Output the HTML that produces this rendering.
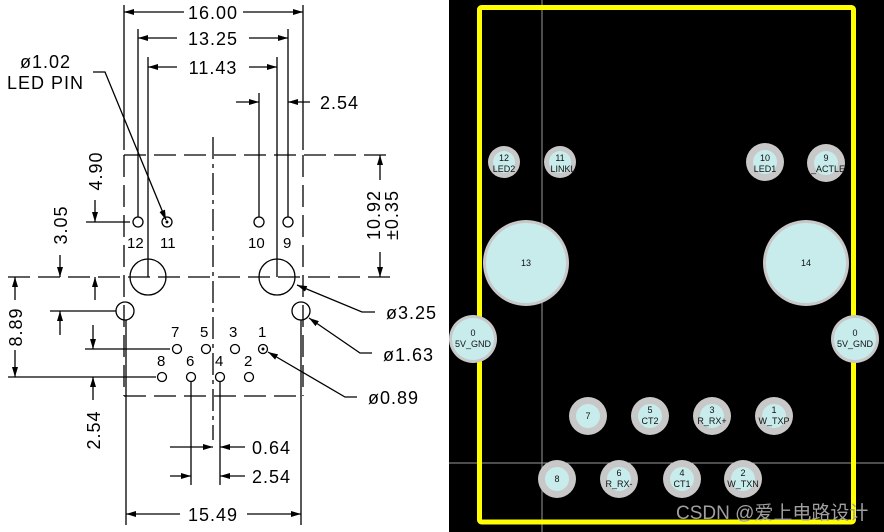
<!DOCTYPE html>
<html><head><meta charset="utf-8"><style>
html,body{margin:0;padding:0;background:#fff;}
svg{display:block;}
</style></head><body>
<svg width="884" height="532" viewBox="0 0 884 532" xmlns="http://www.w3.org/2000/svg">
<defs>
<marker id="a" viewBox="0 0 10 6" refX="10" refY="3" markerWidth="10" markerHeight="6" markerUnits="userSpaceOnUse" orient="auto"><path d="M0,0 L10,3 L0,6 Z" fill="#000"/></marker>
</defs>
<rect width="884" height="532" fill="#fff"/>
<g stroke="#000" stroke-width="1.3" fill="none" font-family="Liberation Sans, sans-serif">
<line x1="124" y1="5" x2="124" y2="150"/><line x1="303" y1="5" x2="303" y2="150"/>
<line x1="138" y1="29" x2="138" y2="217"/><line x1="288" y1="29" x2="288" y2="217"/>
<line x1="148" y1="57" x2="148" y2="277"/><line x1="277" y1="57" x2="277" y2="277"/>
<line x1="259" y1="93" x2="259" y2="217"/>
<line x1="184" y1="12" x2="124" y2="12" marker-end="url(#a)"/><line x1="243" y1="12" x2="303" y2="12" marker-end="url(#a)"/>
<line x1="177" y1="38" x2="138" y2="38" marker-end="url(#a)"/><line x1="249" y1="38" x2="288" y2="38" marker-end="url(#a)"/>
<line x1="177" y1="67" x2="148" y2="67" marker-end="url(#a)"/><line x1="249" y1="67" x2="277" y2="67" marker-end="url(#a)"/>
<line x1="236" y1="102" x2="259" y2="102" marker-end="url(#a)"/><line x1="310" y1="102" x2="288" y2="102" marker-end="url(#a)"/>
<g stroke-dasharray="22,8">
<line x1="124" y1="155" x2="390" y2="155"/>
<line x1="124" y1="155" x2="124" y2="396"/>
<line x1="303" y1="155" x2="303" y2="396"/>
<line x1="124" y1="396" x2="303" y2="396"/>
<line x1="8" y1="277" x2="390" y2="277"/>
</g>
<line x1="213" y1="137" x2="213" y2="440" stroke-dasharray="22,5,4,5"/>
<polyline points="93,72 105,72 166,220" marker-end="url(#a)"/>
<circle cx="138" cy="222" r="5"/><circle cx="167" cy="222" r="5"/><circle cx="259" cy="222" r="5"/><circle cx="288" cy="222" r="5"/>
<circle cx="167" cy="222" r="0.8" fill="#000"/>
<circle cx="148" cy="277" r="18"/><circle cx="277" cy="277" r="18"/>
<circle cx="125" cy="311" r="9"/><circle cx="301" cy="311" r="9"/>
<circle cx="177" cy="349" r="4.5"/><circle cx="206" cy="349" r="4.5"/><circle cx="235" cy="349" r="4.5"/><circle cx="263" cy="349" r="4.5"/>
<circle cx="263" cy="349" r="0.8" fill="#000"/>
<circle cx="162" cy="377" r="4.5"/><circle cx="191" cy="377" r="4.5"/><circle cx="220" cy="377" r="4.5"/><circle cx="249" cy="377" r="4.5"/>
<line x1="126" y1="320" x2="126" y2="525"/><line x1="301" y1="320" x2="301" y2="525"/>
<line x1="191" y1="382" x2="191" y2="485"/><line x1="220" y1="382" x2="220" y2="485"/>
<line x1="180" y1="514" x2="126" y2="514" marker-end="url(#a)"/><line x1="247" y1="514" x2="301" y2="514" marker-end="url(#a)"/>
<line x1="170" y1="447" x2="191" y2="447"/><line x1="191" y1="447" x2="213" y2="447" marker-end="url(#a)"/><line x1="245" y1="447" x2="220" y2="447" marker-end="url(#a)"/>
<line x1="170" y1="476" x2="191" y2="476" marker-end="url(#a)"/><line x1="245" y1="476" x2="220" y2="476" marker-end="url(#a)"/>
<line x1="86" y1="222" x2="130" y2="222"/>
<line x1="50" y1="311" x2="116" y2="311"/>
<line x1="85" y1="349" x2="170" y2="349"/>
<line x1="8" y1="377" x2="156" y2="377"/>
<line x1="95" y1="200" x2="95" y2="222" marker-end="url(#a)"/><line x1="95" y1="300" x2="95" y2="277" marker-end="url(#a)"/>
<line x1="60" y1="255" x2="60" y2="277" marker-end="url(#a)"/><line x1="60" y1="335" x2="60" y2="311" marker-end="url(#a)"/>
<line x1="15" y1="300" x2="15" y2="277" marker-end="url(#a)"/><line x1="15" y1="350" x2="15" y2="377" marker-end="url(#a)"/>
<line x1="93" y1="325" x2="93" y2="349" marker-end="url(#a)"/><line x1="93" y1="400" x2="93" y2="377" marker-end="url(#a)"/>
<line x1="380" y1="180" x2="380" y2="155" marker-end="url(#a)"/><line x1="380" y1="252" x2="380" y2="277" marker-end="url(#a)"/>
<polyline points="375,312 362,312 297,285" marker-end="url(#a)"/>
<polyline points="372,353 360,353 309,318" marker-end="url(#a)"/>
<polyline points="357,397 345,397 268,352" marker-end="url(#a)"/>
</g>
<g font-family="Liberation Sans, sans-serif" font-size="18" fill="#000" letter-spacing="1">
<text x="213" y="19" text-anchor="middle">16.00</text>
<text x="213" y="45" text-anchor="middle">13.25</text>
<text x="213" y="74" text-anchor="middle">11.43</text>
<text x="320" y="109">2.54</text>
<text x="20" y="68">ø1.02</text>
<text x="7" y="89">LED  PIN</text>
<text x="386" y="319">ø3.25</text>
<text x="383" y="361">ø1.63</text>
<text x="368" y="404">ø0.89</text>
<text x="252" y="454">0.64</text>
<text x="252" y="483">2.54</text>
<text x="213" y="521" text-anchor="middle">15.49</text>
<text transform="translate(102,171) rotate(-90)" text-anchor="middle">4.90</text>
<text transform="translate(67,225) rotate(-90)" text-anchor="middle">3.05</text>
<text transform="translate(22,327) rotate(-90)" text-anchor="middle">8.89</text>
<text transform="translate(100,430) rotate(-90)" text-anchor="middle">2.54</text>
<text transform="translate(380,215) rotate(-90)" text-anchor="middle">10.92</text>
<text transform="translate(398,215) rotate(-90)" text-anchor="middle">±0.35</text>
</g>
<g font-family="Liberation Sans, sans-serif" font-size="15" fill="#000">
<text x="127" y="248">12</text><text x="160" y="248">11</text><text x="248" y="248">10</text><text x="283" y="248">9</text>
<text x="171" y="337">7</text><text x="200" y="337">5</text><text x="229" y="337">3</text><text x="258" y="337">1</text>
<text x="157" y="366">8</text><text x="186" y="366">6</text><text x="215" y="366">4</text><text x="244" y="366">2</text>
</g>
<rect x="449" y="0" width="435" height="532" fill="#000"/>
<line x1="542" y1="0" x2="542" y2="532" stroke="#9a9a9a" stroke-width="1"/>
<line x1="449" y1="463" x2="884" y2="463" stroke="#9a9a9a" stroke-width="1"/>
<rect x="479.5" y="7.5" width="374" height="514.5" rx="2" fill="none" stroke="#ffff00" stroke-width="5"/>
<g fill="#c8c8c8">
<circle cx="504" cy="162" r="16"/><circle cx="560" cy="162" r="16"/><circle cx="765" cy="162" r="19"/><circle cx="826" cy="163" r="19"/>
<circle cx="526" cy="263" r="43"/><circle cx="806" cy="263" r="43"/>
<circle cx="473" cy="339" r="24"/><circle cx="855" cy="339" r="24"/>
<circle cx="588" cy="416" r="19"/><circle cx="650" cy="416" r="19"/><circle cx="712" cy="416" r="19"/><circle cx="774" cy="416" r="19"/>
<circle cx="557" cy="479" r="19"/><circle cx="619" cy="479" r="19"/><circle cx="682" cy="479" r="19"/><circle cx="743" cy="479" r="19"/>
</g>
<g fill="#c8ecec">
<circle cx="504" cy="162" r="11"/><circle cx="560" cy="162" r="11"/><circle cx="765" cy="162" r="12"/><circle cx="826" cy="163" r="12"/>
<circle cx="526" cy="263" r="40"/><circle cx="806" cy="263" r="40"/>
<circle cx="473" cy="339" r="21"/><circle cx="855" cy="339" r="21"/>
<circle cx="588" cy="416" r="12"/><circle cx="650" cy="416" r="12"/><circle cx="712" cy="416" r="12"/><circle cx="774" cy="416" r="12"/>
<circle cx="557" cy="479" r="12"/><circle cx="619" cy="479" r="12"/><circle cx="682" cy="479" r="12"/><circle cx="743" cy="479" r="12"/>
</g>
<g font-family="Liberation Sans, sans-serif" font-size="9" fill="#111" text-anchor="middle">
<text x="504" y="161">12</text><text x="504" y="172">LED2</text>
<text x="560" y="161">11</text><text x="563" y="172">LINKL</text>
<text x="765" y="161">10</text><text x="765" y="172">LED1</text>
<text x="826" y="161">9</text><text x="828" y="172">_ACTLE</text>
<text x="526" y="266">13</text><text x="806" y="266">14</text>
<text x="473" y="336">0</text><text x="473" y="347">5V_GND</text>
<text x="855" y="336">0</text><text x="855" y="347">5V_GND</text>
<text x="588" y="419">7</text>
<text x="650" y="413">5</text><text x="650" y="424">CT2</text>
<text x="712" y="413">3</text><text x="712" y="424">R_RX+</text>
<text x="774" y="413">1</text><text x="774" y="424">W_TXP</text>
<text x="557" y="482">8</text>
<text x="619" y="476">6</text><text x="619" y="487">R_RX-</text>
<text x="682" y="476">4</text><text x="682" y="487">CT1</text>
<text x="743" y="476">2</text><text x="743" y="487">W_TXN</text>
</g>
<text x="676" y="519" font-family="Liberation Sans, 'Noto Sans CJK SC', sans-serif" font-size="19" fill="#a0a0a0">CSDN @爱上电路设计</text>
</svg>
</body></html>
